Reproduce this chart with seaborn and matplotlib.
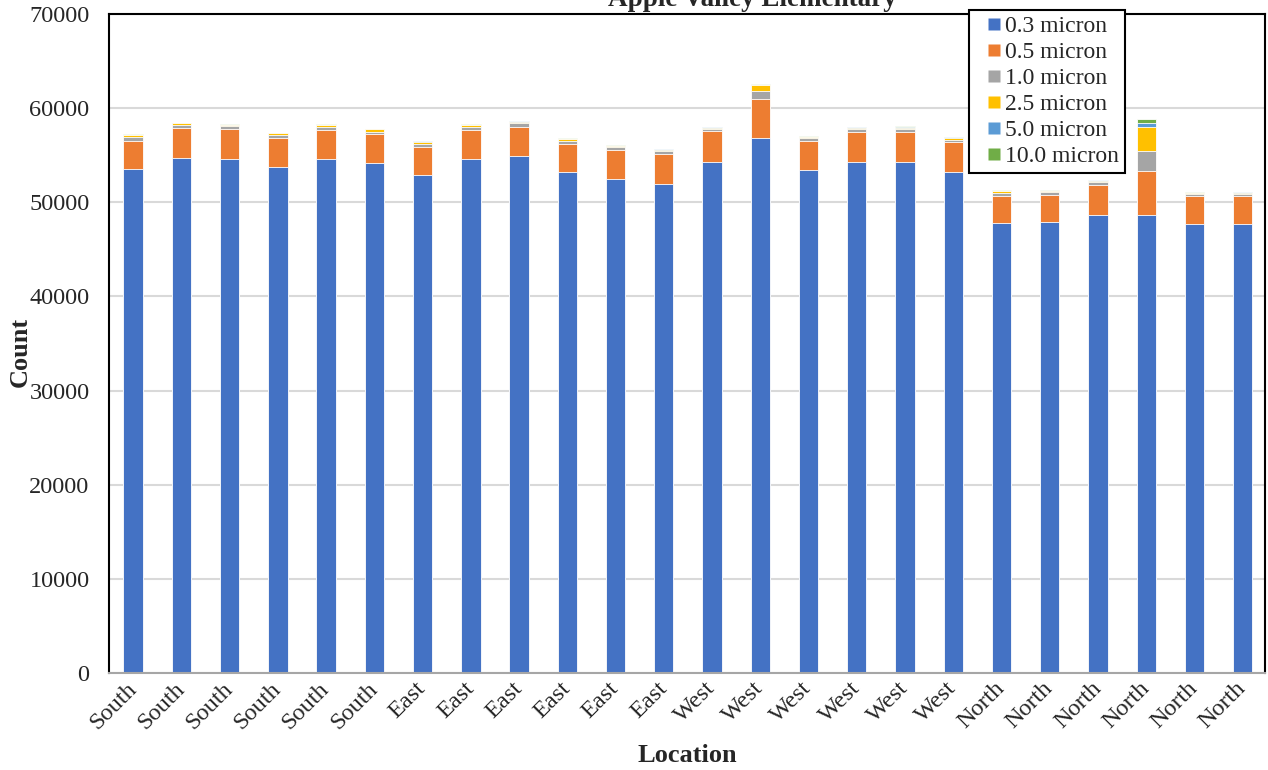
import numpy as np
import pandas as pd
import matplotlib
matplotlib.use("Agg")
import matplotlib.pyplot as plt
import seaborn as sns
from matplotlib.lines import Line2D

# Sampling locations (one bar per measurement)
locations = ["South"] * 6 + ["East"] * 6 + ["West"] * 6 + ["North"] * 6

# Particle counts per size channel
size_labels = ["0.3 micron", "0.5 micron", "1.0 micron", "2.5 micron", "5.0 micron", "10.0 micron"]
p03 = [53550, 54750, 54650, 53800, 54600, 54200, 52950, 54650, 54950, 53250, 52450, 51950,
       54300, 56850, 53400, 54300, 54300, 53250, 47750, 47900, 48700, 48700, 47650, 47700]
p05 = [3000, 3150, 3150, 3080, 3100, 3080, 2950, 3050, 3100, 2970, 3130, 3200,
       3250, 4150, 3150, 3200, 3200, 3180, 2950, 2900, 3170, 4630, 3040, 2940]
p10 = [400, 320, 320, 320, 320, 210, 320, 290, 320, 290, 250, 290,
       210, 850, 250, 250, 290, 210, 250, 250, 250, 2160, 180, 245]
p25 = [180, 150, 70, 180, 150, 250, 180, 180, 210, 180, 140, 140,
       140, 600, 140, 140, 140, 210, 210, 140, 140, 2480, 100, 100]
p50 = [50, 25, 50, 20, 60, 20, 60, 60, 20, 80, 60, 40,
       90, 60, 20, 60, 110, 40, 80, 60, 60, 420, 60, 60]
p100 = [40, 15, 30, 10, 40, 10, 40, 40, 15, 60, 40, 30,
        60, 40, 80, 40, 70, 30, 60, 40, 40, 460, 40, 40]

colors = ["#4472C4", "#ED7D31", "#A5A5A5", "#FFC000", "#5B9BD5", "#70AD47"]

sns.set_theme(style="white")
plt.rcParams["font.family"] = ["Liberation Serif", "DejaVu Serif"]

fig = plt.figure(figsize=(12.68, 7.70), dpi=100)
ax = fig.add_axes([109 / 1268, 1 - 673 / 770, (1265 - 109) / 1268, (673 - 14) / 770])

idx = np.arange(len(locations))
series = np.vstack([p03, p05, p10, p25, p50, p100])
cumulative = np.cumsum(series, axis=0)

df = pd.DataFrame({"idx": idx})
for i, name in enumerate(size_labels):
    df[name] = cumulative[i]

# Draw cumulative totals from the top layer down so each segment shows its own colour
for i in reversed(range(len(size_labels))):
    sns.barplot(data=df, x="idx", y=size_labels[i], color=colors[i], saturation=1,
                width=0.4, errorbar=None, edgecolor="white", linewidth=0.6,
                order=list(idx), ax=ax, zorder=2)

ax.set_xlim(-0.5, len(locations) - 0.54)
ax.set_ylim(0, 70000)
ax.set_yticks(np.arange(0, 70001, 10000))
ax.set_yticklabels([f"{v:d}" for v in range(0, 70001, 10000)], fontsize=17.5)
ax.set_xticks(idx)
ax.set_xticklabels(locations, rotation=45, ha="right", va="center",
                   rotation_mode="anchor", fontsize=17.5)
ax.tick_params(axis="x", length=0, pad=9)
ax.tick_params(axis="y", length=0, pad=14)

ax.yaxis.grid(True, color="#D9D9D9", linewidth=1.5)
ax.xaxis.grid(False)
ax.set_axisbelow(True)

for side in ["left", "top", "right"]:
    ax.spines[side].set_color("black")
    ax.spines[side].set_linewidth(1.5)
ax.spines["bottom"].set_color("#A6A6A6")
ax.spines["bottom"].set_linewidth(1.5)
ax.spines["bottom"].set_zorder(3)

ax.set_xlabel("Location", fontsize=19, fontweight="bold")
ax.set_ylabel("Count", fontsize=19, fontweight="bold")
ax.xaxis.set_label_coords(0.5, (673 - 756) / 659)
ax.yaxis.set_label_coords((20 - 109) / 1156, (673 - 352) / 659)
ax.xaxis.label.set_va("center")
ax.yaxis.label.set_va("center")

fig.text(752 / 1268, 1 - 6 / 770, "Apple Valley Elementary", ha="center",
         va="baseline", fontsize=19.5, fontweight="bold")

handles = [Line2D([], [], linestyle="none", marker="s", markersize=8.6,
                  markerfacecolor=c, markeredgecolor="none", label=l)
           for c, l in zip(colors, size_labels)]
leg = fig.legend(handles=handles, loc="upper left", bbox_to_anchor=(969 / 1268, 1 - 10 / 770),
                 frameon=True, fancybox=False, edgecolor="black", framealpha=1,
                 fontsize=17, handlelength=1.65, handletextpad=-0.38,
                 labelspacing=0.185, borderpad=0.25, borderaxespad=0)
leg.get_frame().set_linewidth(1.5)

fig.savefig("out.png", dpi=100)
